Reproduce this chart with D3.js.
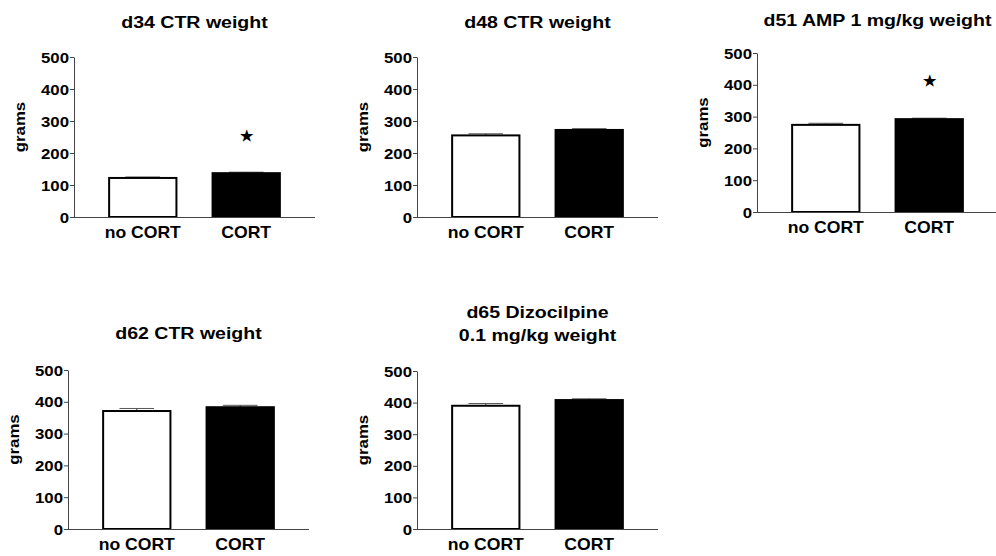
<!DOCTYPE html>
<html>
<head>
<meta charset="utf-8">
<script src="https://cdn.jsdelivr.net/npm/d3@7"></script>
<style>
  body { margin: 0; background: #fff; }
  text { font-family: "Liberation Sans", Arial, sans-serif; font-weight: bold; fill: #000; }
</style>
</head>
<body>
<div id="chart"></div>
<script>
var categories = ['no CORT', 'CORT'];
var titles = [
  ['d34 CTR weight'],
  ['d48 CTR weight'],
  ['d51 AMP 1 mg/kg weight'],
  ['d62 CTR weight'],
  ['d65 Dizocilpine', '0.1 mg/kg weight']
];
var noCortMean = [122, 255, 274, 371, 390];
var noCortErr  = [3, 5, 5, 8, 7];
var cortMean   = [137, 272, 292, 383, 408];
var cortErr    = [3, 4, 3, 6, 4];
var starValue  = [253, null, 412, null, null];
var yTicks     = [0, 100, 200, 300, 400, 500];

// where each small panel sits on the page (axis origin x, y of 0, y of 500)
var panelLayout = [
  {x: 74,  y0: 217, y1: 57,  titleY: 22},
  {x: 417, y0: 217, y1: 57,  titleY: 22},
  {x: 757, y0: 212, y1: 53,  titleY: 20},
  {x: 68,  y0: 529, y1: 370, titleY: 333},
  {x: 417, y0: 529, y1: 371, titleY: 312}
];

var svg = d3.select('#chart').append('svg')
  .attr('width', 996)
  .attr('height', 556);

// stretched bold text, the original's lettering is wider than Arial
function wideText(g, x, y, str, size, sx, anchor) {
  return g.append('g')
    .attr('transform', 'translate(' + x + ',' + y + ') scale(' + sx + ',1)')
    .append('text')
    .attr('text-anchor', anchor || 'middle')
    .style('font-size', size + 'px')
    .text(str);
}

panelLayout.forEach(function(p, i) {
  var g = svg.append('g');
  var axisLen = 241;

  var x = d3.scaleBand()
    .domain(categories)
    .range([p.x, p.x + axisLen])
    .paddingInner(0.33)
    .paddingOuter(0.33);

  var y = d3.scaleLinear()
    .domain([0, 500])
    .range([p.y0, p.y1]);

  var values = [
    {cat: categories[0], mean: noCortMean[i], err: noCortErr[i], fill: '#fff'},
    {cat: categories[1], mean: cortMean[i], err: cortErr[i], fill: '#000'}
  ];

  // error bars (upper half only, the lower half is hidden by the bar)
  var eb = g.selectAll('.eb').data(values).enter().append('g');
  eb.append('line')
    .attr('x1', function(d) { return x(d.cat) + x.bandwidth() / 2; })
    .attr('x2', function(d) { return x(d.cat) + x.bandwidth() / 2; })
    .attr('y1', function(d) { return y(d.mean); })
    .attr('y2', function(d) { return y(d.mean + d.err); })
    .style('stroke', '#333').style('stroke-width', 1);
  eb.append('line')
    .attr('x1', function(d) { return x(d.cat) + x.bandwidth() / 4; })
    .attr('x2', function(d) { return x(d.cat) + x.bandwidth() * 3 / 4; })
    .attr('y1', function(d) { return y(d.mean + d.err); })
    .attr('y2', function(d) { return y(d.mean + d.err); })
    .style('stroke', '#555').style('stroke-width', 1);

  g.selectAll('rect').data(values).enter().append('rect')
    .attr('x', function(d) { return x(d.cat) + 1; })
    .attr('width', x.bandwidth() - 2)
    .attr('y', function(d) { return y(d.mean); })
    .attr('height', function(d) { return y(0) - y(d.mean); })
    .style('fill', function(d) { return d.fill; })
    .style('stroke', '#000')
    .style('stroke-width', 2);

  // y axis
  var yAxis = g.append('g')
    .attr('transform', 'translate(' + p.x + ',0)')
    .call(d3.axisLeft(y).tickValues(yTicks).tickSize(4).tickSizeOuter(0).tickFormat(''));
  yAxis.selectAll('path, line').style('stroke', '#444').style('stroke-width', 1);

  yTicks.forEach(function(t) {
    wideText(g, p.x - 5, y(t) + 5.5, String(t), 15, 1.12, 'end');
  });

  // x axis
  g.append('line')
    .attr('x1', p.x).attr('x2', p.x + axisLen)
    .attr('y1', p.y0 + 0.5).attr('y2', p.y0 + 0.5)
    .style('stroke', '#444').style('stroke-width', 1);

  categories.forEach(function(c) {
    wideText(g, x(c) + x.bandwidth() / 2, p.y0 + 21, c, 16, 1.1);
  });

  // y label
  var mid = (p.y0 + p.y1) / 2 - 10;
  g.append('g')
    .attr('transform', 'translate(' + (p.x - 49) + ',' + mid + ') rotate(-90) scale(1.12,1)')
    .append('text')
    .attr('text-anchor', 'middle')
    .style('font-size', '15px')
    .text('grams');

  // title
  titles[i].forEach(function(line, k) {
    wideText(g, p.x + axisLen / 2, p.titleY + 6 + k * 23, line, 17, 1.15);
  });

  // significance star
  if (starValue[i] !== null) {
    g.append('text')
      .attr('x', x(categories[1]) + x.bandwidth() / 2)
      .attr('y', y(starValue[i]) + 5)
      .attr('text-anchor', 'middle')
      .style('font-size', '15px')
      .text('\u2605');
  }
});
</script>
</body>
</html>
